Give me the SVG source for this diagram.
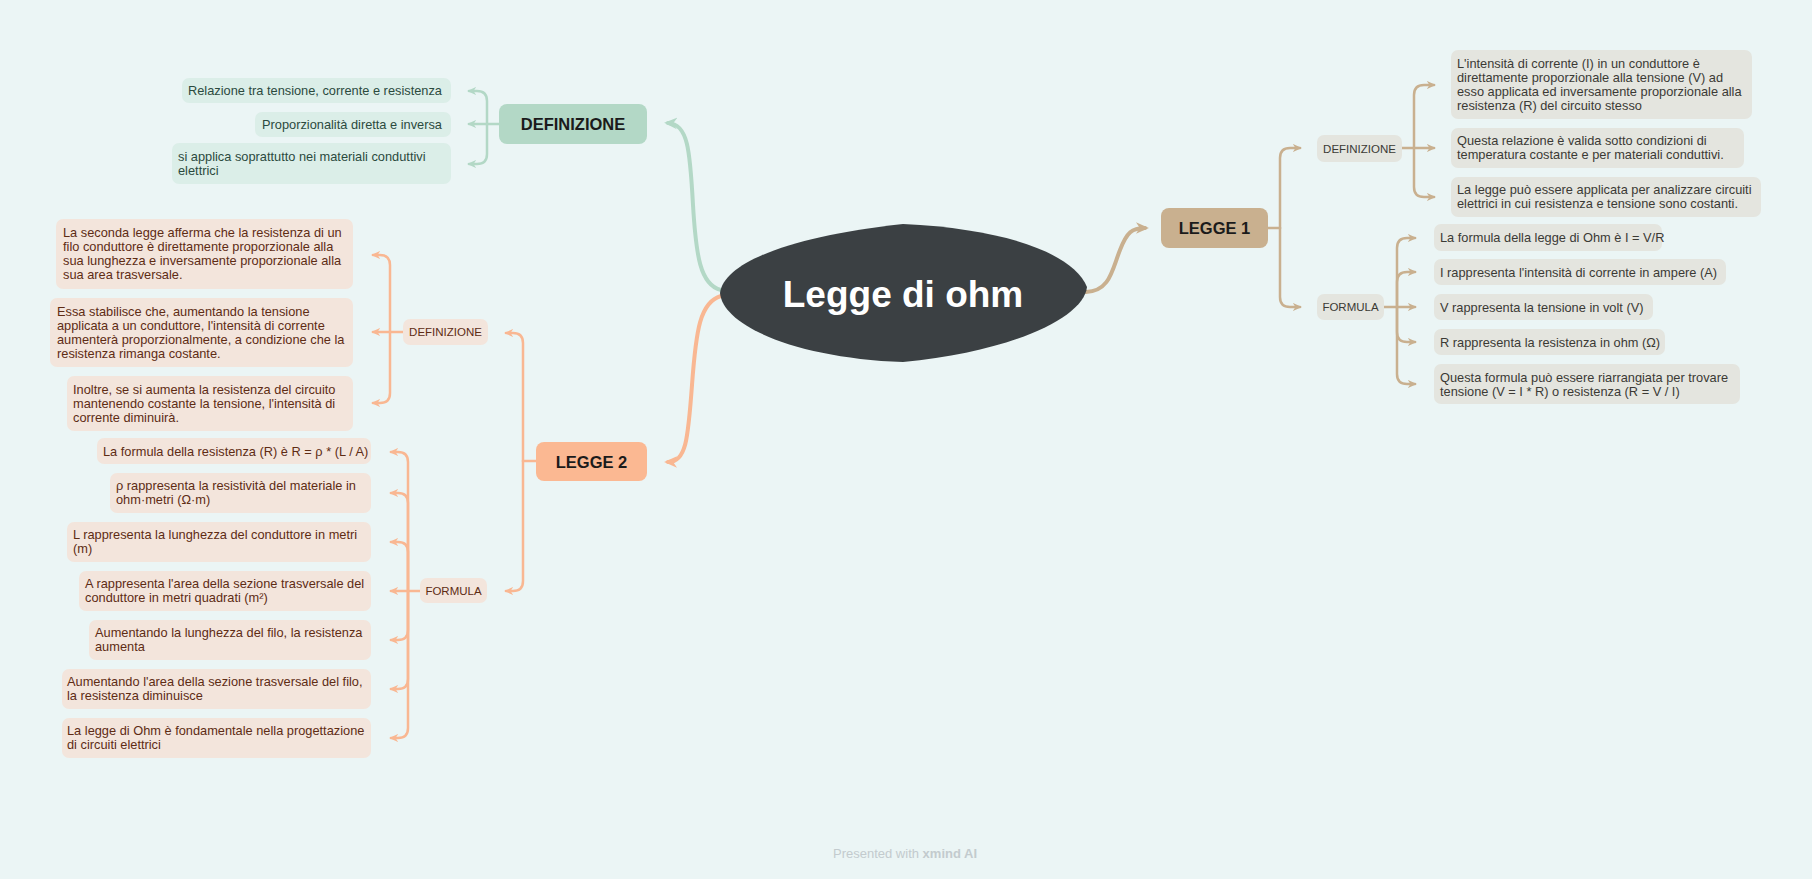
<svg xmlns="http://www.w3.org/2000/svg" width="1812" height="879" viewBox="0 0 1812 879">
<style>
  text { font-family: "Liberation Sans", Arial, sans-serif; }
  .ct { font-size: 12.8px; }
  .g-box { fill: #dbeee8; }
  .o-box { fill: #f3e5dc; }
  .t-box { fill: #e4e5df; }
  .g-txt { fill: #2b4a3e; }
  .o-txt { fill: #5e2c14; }
  .t-txt { fill: #3b3a35; }
  .main { font-size: 16.5px; font-weight: bold; fill: #1b1b1b; text-anchor: middle; }
  .sub { font-size: 11.5px; text-anchor: middle; }
  .g-ln { fill: none; stroke: #b3d8c6; stroke-width: 2.5; stroke-linecap: round; stroke-linejoin: round; }
  .o-ln { fill: none; stroke: #f9b792; stroke-width: 2.5; stroke-linecap: round; stroke-linejoin: round; }
  .t-ln { fill: none; stroke: #c9b08f; stroke-width: 2.5; stroke-linecap: round; stroke-linejoin: round; }
  .thick { stroke-width: 4; }
</style>
<defs>
  <marker id="ag" viewBox="0 0 10 10" refX="8" refY="5" markerWidth="9" markerHeight="9" markerUnits="userSpaceOnUse" orient="auto">
    <path d="M0,0.5 L10,5 L0,9.5 L3,5 Z" fill="#b3d8c6"/>
  </marker>
  <marker id="ao" viewBox="0 0 10 10" refX="8" refY="5" markerWidth="9" markerHeight="9" markerUnits="userSpaceOnUse" orient="auto">
    <path d="M0,0.5 L10,5 L0,9.5 L3,5 Z" fill="#f9b792"/>
  </marker>
  <marker id="at" viewBox="0 0 10 10" refX="8" refY="5" markerWidth="9" markerHeight="9" markerUnits="userSpaceOnUse" orient="auto">
    <path d="M0,0.5 L10,5 L0,9.5 L3,5 Z" fill="#c9b08f"/>
  </marker>
  <marker id="agL" viewBox="0 0 10 10" refX="7" refY="5" markerWidth="13" markerHeight="13" markerUnits="userSpaceOnUse" orient="auto">
    <path d="M0,0.5 L10,5 L0,9.5 L3,5 Z" fill="#b3d8c6"/>
  </marker>
  <marker id="aoL" viewBox="0 0 10 10" refX="7" refY="5" markerWidth="13" markerHeight="13" markerUnits="userSpaceOnUse" orient="auto">
    <path d="M0,0.5 L10,5 L0,9.5 L3,5 Z" fill="#f9b792"/>
  </marker>
  <marker id="atL" viewBox="0 0 10 10" refX="7" refY="5" markerWidth="13" markerHeight="13" markerUnits="userSpaceOnUse" orient="auto">
    <path d="M0,0.5 L10,5 L0,9.5 L3,5 Z" fill="#c9b08f"/>
  </marker>
</defs>
<rect x="0" y="0" width="1812" height="879" fill="#ebf5f5"/>

<g id="connectors">
  <path class="g-ln thick" d="M 721 290 C 700 285, 696 255, 693 205 C 690 150, 688 124, 668 123" marker-end="url(#agL)"/>
  <path class="o-ln thick" d="M 721 296 C 700 302, 696 330, 692 385 C 688 440, 686 462, 668 462" marker-end="url(#aoL)"/>
  <path class="t-ln thick" d="M 1086 292 C 1110 291, 1112 270, 1120 250 C 1127 232, 1132 228, 1145 228" marker-end="url(#atL)"/>

  <path class="g-ln" d="M 499 124 L 487 124"/>
  <path class="g-ln" d="M 487 124 L 487 101 Q 487 91 477 91 L 469 91" marker-end="url(#ag)"/>
  <path class="g-ln" d="M 487 124 L 469 124" marker-end="url(#ag)"/>
  <path class="g-ln" d="M 487 124 L 487 154 Q 487 164 477 164 L 469 164" marker-end="url(#ag)"/>

  <path class="t-ln" d="M 1268 228 L 1280 228"/>
  <path class="t-ln" d="M 1280 228 L 1280 158 Q 1280 148 1290 148 L 1300 148" marker-end="url(#at)"/>
  <path class="t-ln" d="M 1280 228 L 1280 297 Q 1280 307 1290 307 L 1300 307" marker-end="url(#at)"/>

  <path class="t-ln" d="M 1402 148 L 1414 148"/>
  <path class="t-ln" d="M 1414 148 L 1414 95 Q 1414 85 1424 85 L 1434 85" marker-end="url(#at)"/>
  <path class="t-ln" d="M 1414 148 L 1434 148" marker-end="url(#at)"/>
  <path class="t-ln" d="M 1414 148 L 1414 187 Q 1414 197 1424 197 L 1434 197" marker-end="url(#at)"/>

  <path class="t-ln" d="M 1384 307 L 1397 307"/>
  <path class="t-ln" d="M 1397 307 L 1397 248 Q 1397 238 1407 238 L 1415 238" marker-end="url(#at)"/>
  <path class="t-ln" d="M 1397 307 L 1397 282 Q 1397 272 1407 272 L 1415 272" marker-end="url(#at)"/>
  <path class="t-ln" d="M 1397 307 L 1415 307" marker-end="url(#at)"/>
  <path class="t-ln" d="M 1397 307 L 1397 332 Q 1397 342 1407 342 L 1415 342" marker-end="url(#at)"/>
  <path class="t-ln" d="M 1397 307 L 1397 374 Q 1397 384 1407 384 L 1415 384" marker-end="url(#at)"/>

  <path class="o-ln" d="M 536 461 L 523 461"/>
  <path class="o-ln" d="M 523 461 L 523 343 Q 523 333 513 333 L 506 333" marker-end="url(#ao)"/>
  <path class="o-ln" d="M 523 461 L 523 581 Q 523 591 513 591 L 506 591" marker-end="url(#ao)"/>

  <path class="o-ln" d="M 403 332 L 390 332"/>
  <path class="o-ln" d="M 390 332 L 390 265 Q 390 255 380 255 L 373 255" marker-end="url(#ao)"/>
  <path class="o-ln" d="M 390 332 L 373 332" marker-end="url(#ao)"/>
  <path class="o-ln" d="M 390 332 L 390 393 Q 390 403 380 403 L 373 403" marker-end="url(#ao)"/>

  <path class="o-ln" d="M 420 591 L 408 591"/>
  <path class="o-ln" d="M 408 591 L 408 462 Q 408 452 398 452 L 391 452" marker-end="url(#ao)"/>
  <path class="o-ln" d="M 408 591 L 408 503 Q 408 493 398 493 L 391 493" marker-end="url(#ao)"/>
  <path class="o-ln" d="M 408 591 L 408 552 Q 408 542 398 542 L 391 542" marker-end="url(#ao)"/>
  <path class="o-ln" d="M 408 591 L 391 591" marker-end="url(#ao)"/>
  <path class="o-ln" d="M 408 591 L 408 630 Q 408 640 398 640 L 391 640" marker-end="url(#ao)"/>
  <path class="o-ln" d="M 408 591 L 408 679 Q 408 689 398 689 L 391 689" marker-end="url(#ao)"/>
  <path class="o-ln" d="M 408 591 L 408 728 Q 408 738 398 738 L 391 738" marker-end="url(#ao)"/>
</g>

<g id="central">
  <path d="M 720 293 C 724 262, 792 236, 903 224 C 1010 229, 1074 255, 1087 287 C 1084 318, 1010 352, 903 362 C 796 358, 723 326, 720 293 Z" fill="#3b4043"/>
  <text x="903" y="307" font-size="37" font-weight="bold" fill="#ffffff" text-anchor="middle">Legge di ohm</text>
</g>

<g id="definizione-g">
  <rect x="499" y="104" width="148" height="40" rx="8" fill="#b3d8c6"/>
  <text class="main" x="573" y="130">DEFINIZIONE</text>
</g>
<g id="g1">
  <rect class="g-box" x="182" y="78" width="269" height="25" rx="7"/>
  <text class="ct g-txt" x="188" y="95">Relazione tra tensione, corrente e resistenza</text>
</g>
<g id="g2">
  <rect class="g-box" x="255" y="112" width="196" height="25" rx="7"/>
  <text class="ct g-txt" x="262" y="129">Proporzionalità diretta e inversa</text>
</g>
<g id="g3">
  <rect class="g-box" x="172" y="143" width="279" height="41" rx="7"/>
  <text class="ct g-txt" x="178" y="161">si applica soprattutto nei materiali conduttivi</text>
  <text class="ct g-txt" x="178" y="175">elettrici</text>
</g>

<g id="legge1">
  <rect x="1161" y="208" width="107" height="40" rx="8" fill="#c9b08f"/>
  <text class="main" x="1214.5" y="234">LEGGE 1</text>
</g>
<g id="t-def">
  <rect class="t-box" x="1317" y="135" width="85" height="27" rx="7"/>
  <text class="sub t-txt" x="1359.5" y="152.5">DEFINIZIONE</text>
</g>
<g id="t-def1">
  <rect class="t-box" x="1451" y="50" width="301" height="69" rx="7"/>
  <text class="ct t-txt" x="1457" y="68">L'intensità di corrente (I) in un conduttore è</text>
  <text class="ct t-txt" x="1457" y="82">direttamente proporzionale alla tensione (V) ad</text>
  <text class="ct t-txt" x="1457" y="96">esso applicata ed inversamente proporzionale alla</text>
  <text class="ct t-txt" x="1457" y="110">resistenza (R) del circuito stesso</text>
</g>
<g id="t-def2">
  <rect class="t-box" x="1451" y="128" width="293" height="40" rx="7"/>
  <text class="ct t-txt" x="1457" y="145">Questa relazione è valida sotto condizioni di</text>
  <text class="ct t-txt" x="1457" y="159">temperatura costante e per materiali conduttivi.</text>
</g>
<g id="t-def3">
  <rect class="t-box" x="1451" y="177" width="310" height="40" rx="7"/>
  <text class="ct t-txt" x="1457" y="194">La legge può essere applicata per analizzare circuiti</text>
  <text class="ct t-txt" x="1457" y="208">elettrici in cui resistenza e tensione sono costanti.</text>
</g>
<g id="t-form">
  <rect class="t-box" x="1317" y="294" width="67" height="26" rx="7"/>
  <text class="sub t-txt" x="1350.5" y="311">FORMULA</text>
</g>
<g id="t-f1">
  <rect class="t-box" x="1434" y="224" width="228" height="27" rx="7"/>
  <text class="ct t-txt" x="1440" y="242">La formula della legge di Ohm è I = V/R</text>
</g>
<g id="t-f2">
  <rect class="t-box" x="1434" y="259" width="292" height="26" rx="7"/>
  <text class="ct t-txt" x="1440" y="276.5">I rappresenta l'intensità di corrente in ampere (A)</text>
</g>
<g id="t-f3">
  <rect class="t-box" x="1434" y="294" width="219" height="26" rx="7"/>
  <text class="ct t-txt" x="1440" y="311.5">V rappresenta la tensione in volt (V)</text>
</g>
<g id="t-f4">
  <rect class="t-box" x="1434" y="329" width="231" height="26" rx="7"/>
  <text class="ct t-txt" x="1440" y="346.5">R rappresenta la resistenza in ohm (Ω)</text>
</g>
<g id="t-f5">
  <rect class="t-box" x="1434" y="364" width="306" height="40" rx="7"/>
  <text class="ct t-txt" x="1440" y="381.5">Questa formula può essere riarrangiata per trovare</text>
  <text class="ct t-txt" x="1440" y="395.5">tensione (V = I * R) o resistenza (R = V / I)</text>
</g>

<g id="legge2">
  <rect x="536" y="442" width="111" height="39" rx="8" fill="#fbb892"/>
  <text class="main" x="591.5" y="468">LEGGE 2</text>
</g>
<g id="o-def">
  <rect class="o-box" x="403" y="319" width="85" height="26" rx="7"/>
  <text class="sub o-txt" x="445.5" y="336">DEFINIZIONE</text>
</g>
<g id="o-def1">
  <rect class="o-box" x="56" y="219" width="297" height="70" rx="7"/>
  <text class="ct o-txt" x="63" y="237">La seconda legge afferma che la resistenza di un</text>
  <text class="ct o-txt" x="63" y="251">filo conduttore è direttamente proporzionale alla</text>
  <text class="ct o-txt" x="63" y="265">sua lunghezza e inversamente proporzionale alla</text>
  <text class="ct o-txt" x="63" y="279">sua area trasversale.</text>
</g>
<g id="o-def2">
  <rect class="o-box" x="50" y="298" width="303" height="69" rx="7"/>
  <text class="ct o-txt" x="57" y="315.5">Essa stabilisce che, aumentando la tensione</text>
  <text class="ct o-txt" x="57" y="329.5">applicata a un conduttore, l'intensità di corrente</text>
  <text class="ct o-txt" x="57" y="343.5">aumenterà proporzionalmente, a condizione che la</text>
  <text class="ct o-txt" x="57" y="357.5">resistenza rimanga costante.</text>
</g>
<g id="o-def3">
  <rect class="o-box" x="67" y="376" width="286" height="55" rx="7"/>
  <text class="ct o-txt" x="73" y="394">Inoltre, se si aumenta la resistenza del circuito</text>
  <text class="ct o-txt" x="73" y="408">mantenendo costante la tensione, l'intensità di</text>
  <text class="ct o-txt" x="73" y="422">corrente diminuirà.</text>
</g>
<g id="o-form">
  <rect class="o-box" x="420" y="578" width="67" height="25" rx="7"/>
  <text class="sub o-txt" x="453.5" y="595">FORMULA</text>
</g>
<g id="o-f1">
  <rect class="o-box" x="97" y="438" width="274" height="26" rx="7"/>
  <text class="ct o-txt" x="103" y="455.5">La formula della resistenza (R) è R = ρ * (L / A)</text>
</g>
<g id="o-f2">
  <rect class="o-box" x="110" y="473" width="261" height="40" rx="7"/>
  <text class="ct o-txt" x="116" y="490">ρ rappresenta la resistività del materiale in</text>
  <text class="ct o-txt" x="116" y="504">ohm·metri (Ω·m)</text>
</g>
<g id="o-f3">
  <rect class="o-box" x="67" y="522" width="304" height="40" rx="7"/>
  <text class="ct o-txt" x="73" y="539">L rappresenta la lunghezza del conduttore in metri</text>
  <text class="ct o-txt" x="73" y="553">(m)</text>
</g>
<g id="o-f4">
  <rect class="o-box" x="79" y="571" width="292" height="40" rx="7"/>
  <text class="ct o-txt" x="85" y="588">A rappresenta l'area della sezione trasversale del</text>
  <text class="ct o-txt" x="85" y="602">conduttore in metri quadrati (m²)</text>
</g>
<g id="o-f5">
  <rect class="o-box" x="89" y="620" width="282" height="40" rx="7"/>
  <text class="ct o-txt" x="95" y="637">Aumentando la lunghezza del filo, la resistenza</text>
  <text class="ct o-txt" x="95" y="651">aumenta</text>
</g>
<g id="o-f6">
  <rect class="o-box" x="62" y="669" width="309" height="40" rx="7"/>
  <text class="ct o-txt" x="67" y="686">Aumentando l'area della sezione trasversale del filo,</text>
  <text class="ct o-txt" x="67" y="700">la resistenza diminuisce</text>
</g>
<g id="o-f7">
  <rect class="o-box" x="62" y="718" width="309" height="40" rx="7"/>
  <text class="ct o-txt" x="67" y="735">La legge di Ohm è fondamentale nella progettazione</text>
  <text class="ct o-txt" x="67" y="749">di circuiti elettrici</text>
</g>

<g id="footer">
  <text x="905" y="858" font-size="13" fill="#c3cbce" text-anchor="middle">Presented with <tspan font-weight="bold">xmind AI</tspan></text>
</g>
</svg>
